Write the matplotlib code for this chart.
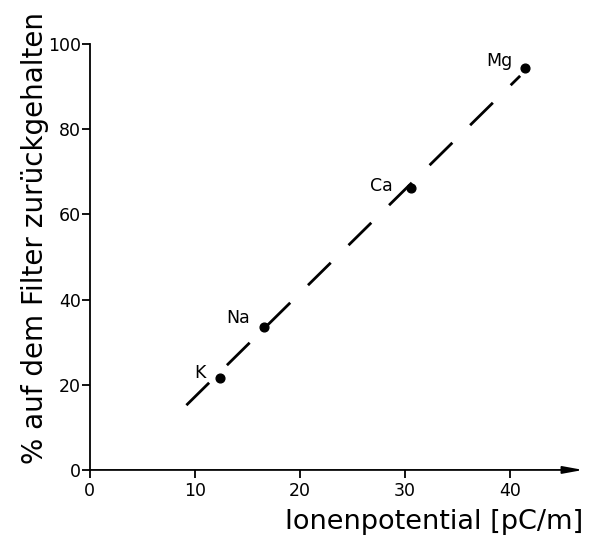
"""
Rückhaltung der Kationen auf dem Filter gegen das Ionenpotential.
Nachzeichnung einer eingescannten Abbildung (Werte von Hand abgelesen).
"""

import matplotlib.pyplot as plt

# --- Daten ---
ionen = ["K", "Na", "Ca", "Mg"]
ionenpotential = [12.4, 16.6, 30.6, 41.5]
zurueckgehalten = [21.5, 33.5, 66.2, 94.4]

# gestrichelte Ausgleichsgerade (Anfangs- und Endpunkt)
gerade_x = [9.2, 41.0]
gerade_y = [15.2, 92.5]

x_ticks = [0, 10, 20, 30, 40]
y_ticks = [0, 20, 40, 60, 80, 100]

# Versatz der Beschriftungen zum Punkt (Pixel)
label_offsets = [(-20, 5), (-26, 9), (-30, 2), (-26, 7)]


def main():
    plt.rcParams["font.family"] = ["DejaVu Sans"]

    fig = plt.figure(figsize=(5.95, 5.49), dpi=100)
    ax = fig.add_axes([0.151, 0.144, 0.829, 0.776])

    ax.set_xlim(0, 47)
    ax.set_ylim(0, 100)

    # Ausgleichsgerade
    (line,) = ax.plot(gerade_x, gerade_y, color="black", lw=2.0, solid_capstyle="butt")
    line.set_dashes((11.5, 9))
    line.set_dash_capstyle("butt")

    # Messpunkte
    ax.plot(ionenpotential, zurueckgehalten, "o", color="black", ms=6.3, zorder=3)
    for name, xv, yv, off in zip(ionen, ionenpotential, zurueckgehalten, label_offsets):
        ax.annotate(name, (xv, yv), xytext=off, textcoords="offset pixels",
                    ha="center", va="center", fontsize=12.5)

    # Achsen
    for side in ("top", "right", "bottom"):
        ax.spines[side].set_visible(False)
    ax.spines["left"].set_linewidth(1.3)
    ax.annotate("", xy=(1.0, 0), xytext=(0, 0), xycoords="axes fraction",
                arrowprops=dict(arrowstyle="-|>,head_length=1.2,head_width=0.22",
                                lw=1.3, color="black", mutation_scale=10,
                                shrinkA=0, shrinkB=0))

    ax.set_xticks(x_ticks)
    ax.set_yticks(y_ticks)
    ax.tick_params(axis="both", direction="out", length=5.5, width=1.3, labelsize=12.5)
    ax.tick_params(axis="x", pad=3.5)
    ax.tick_params(axis="y", pad=1)

    ax.set_xlabel("Ionenpotential [pC/m]", fontsize=19.5, ha="right", va="center")
    ax.xaxis.set_label_coords(1.0, -0.122)
    ax.set_ylabel("% auf dem Filter zurückgehalten", fontsize=20, va="center")
    ax.yaxis.set_label_coords(-0.112, 0.545)

    fig.savefig("out.png", dpi=100)
    plt.close(fig)


if __name__ == "__main__":
    main()
